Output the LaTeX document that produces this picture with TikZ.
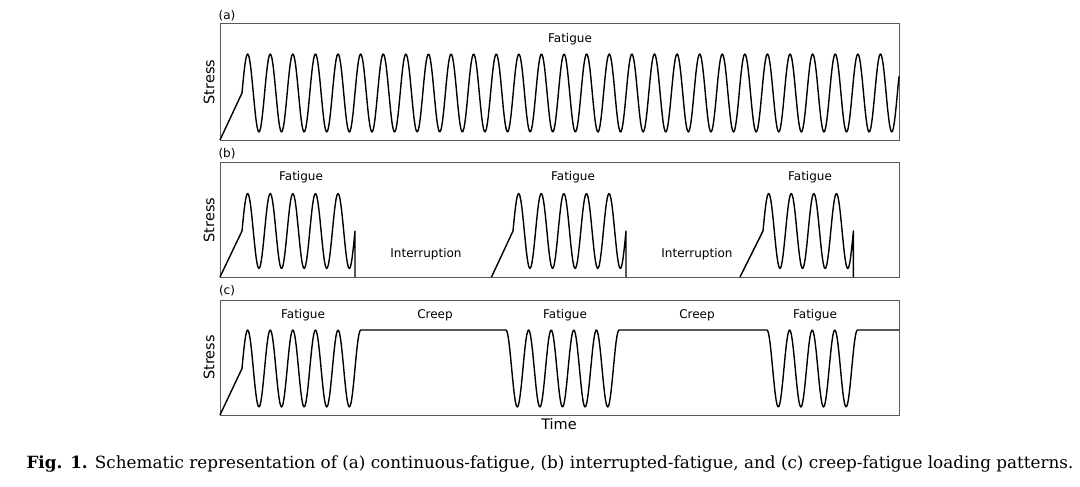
\documentclass[tikz,border=0pt]{standalone}
\usepackage{fontspec}
\setmainfont{DejaVu Serif}
\newfontfamily\plotfont{DejaVu Sans}
\newcommand\degpx{15.929}
\begin{document}
\begin{tikzpicture}[x=1pt,y=-1pt,
  frame/.style={draw=black!65,line width=1pt},
  wave/.style={black,line width=1.4pt,line join=round},
  txt/.style={font=\plotfont\fontsize{12}{14}\selectfont,inner sep=0pt},
  axis/.style={font=\plotfont\fontsize{14.5}{16}\selectfont,inner sep=0pt}]
\useasboundingbox (0,0) rectangle (1080,487);

% (a) continuous
\draw[frame] (220,24) rectangle (899,140);
\node[txt] (la) at (227,16) {(a)};
\node[axis,rotate=90] (sa) at (209,82) {Stress};
\node[txt] (fa) at (570,39) {Fatigue};
\draw[wave] (220,140) -- (242,93) -- plot[domain=242:899,samples=700] (\x,{93-39*sin(\degpx*(\x-242))});

% (b) interrupted
\draw[frame] (220,162) rectangle (899,277);
\node[txt] (lb) at (227,154) {(b)};
\node[axis,rotate=90] (sb) at (209,220) {Stress};
\node[txt] (fb1) at (301,177) {Fatigue};
\node[txt] (fb2) at (573,177) {Fatigue};
\node[txt] (fb3) at (810,177) {Fatigue};
\node[txt] (ib1) at (426,254) {Interruption};
\node[txt] (ib2) at (697,254) {Interruption};
\draw[wave] (220,277) -- (242,231) -- plot[domain=242:355,samples=120] (\x,{231-37.5*sin(\degpx*(\x-242))}) -- (355,277);
\draw[wave] (491.5,277) -- (513,231) -- plot[domain=513:626,samples=120] (\x,{231-37.5*sin(\degpx*(\x-513))}) -- (626,277);
\draw[wave] (740,277) -- (763,231) -- plot[domain=763:853.4,samples=100] (\x,{231-37.5*sin(\degpx*(\x-763))}) -- (853.4,277);

% (c) creep
\draw[frame] (220,300) rectangle (899,415);
\node[txt] (lc) at (227,291) {(c)};
\node[axis,rotate=90] (sc) at (209,357.5) {Stress};
\node[txt] (fc1) at (303,315) {Fatigue};
\node[txt] (cc1) at (435,315) {Creep};
\node[txt] (fc2) at (565,315) {Fatigue};
\node[txt] (cc2) at (697,315) {Creep};
\node[txt] (fc3) at (815,315) {Fatigue};
\draw[wave] (220,415) -- (242,368.5) -- plot[domain=242:360.65,samples=130] (\x,{368.5-38.5*sin(\degpx*(\x-242))})
  -- (506,330) -- plot[domain=506:619,samples=120] (\x,{368.5-38.5*cos(\degpx*(\x-506))})
  -- (767,330) -- plot[domain=767:857.4,samples=100] (\x,{368.5-38.5*cos(\degpx*(\x-767))}) -- (899,330);
\node[axis] (t) at (559,424) {Time};

\node[font=\fontsize{16.8}{20}\selectfont,inner sep=0pt] (cap) at (550,464) {\textbf{Fig. 1.} Schematic representation of (a) continuous-fatigue, (b) interrupted-fatigue, and (c) creep-fatigue loading patterns.};
\end{tikzpicture}
\end{document}
